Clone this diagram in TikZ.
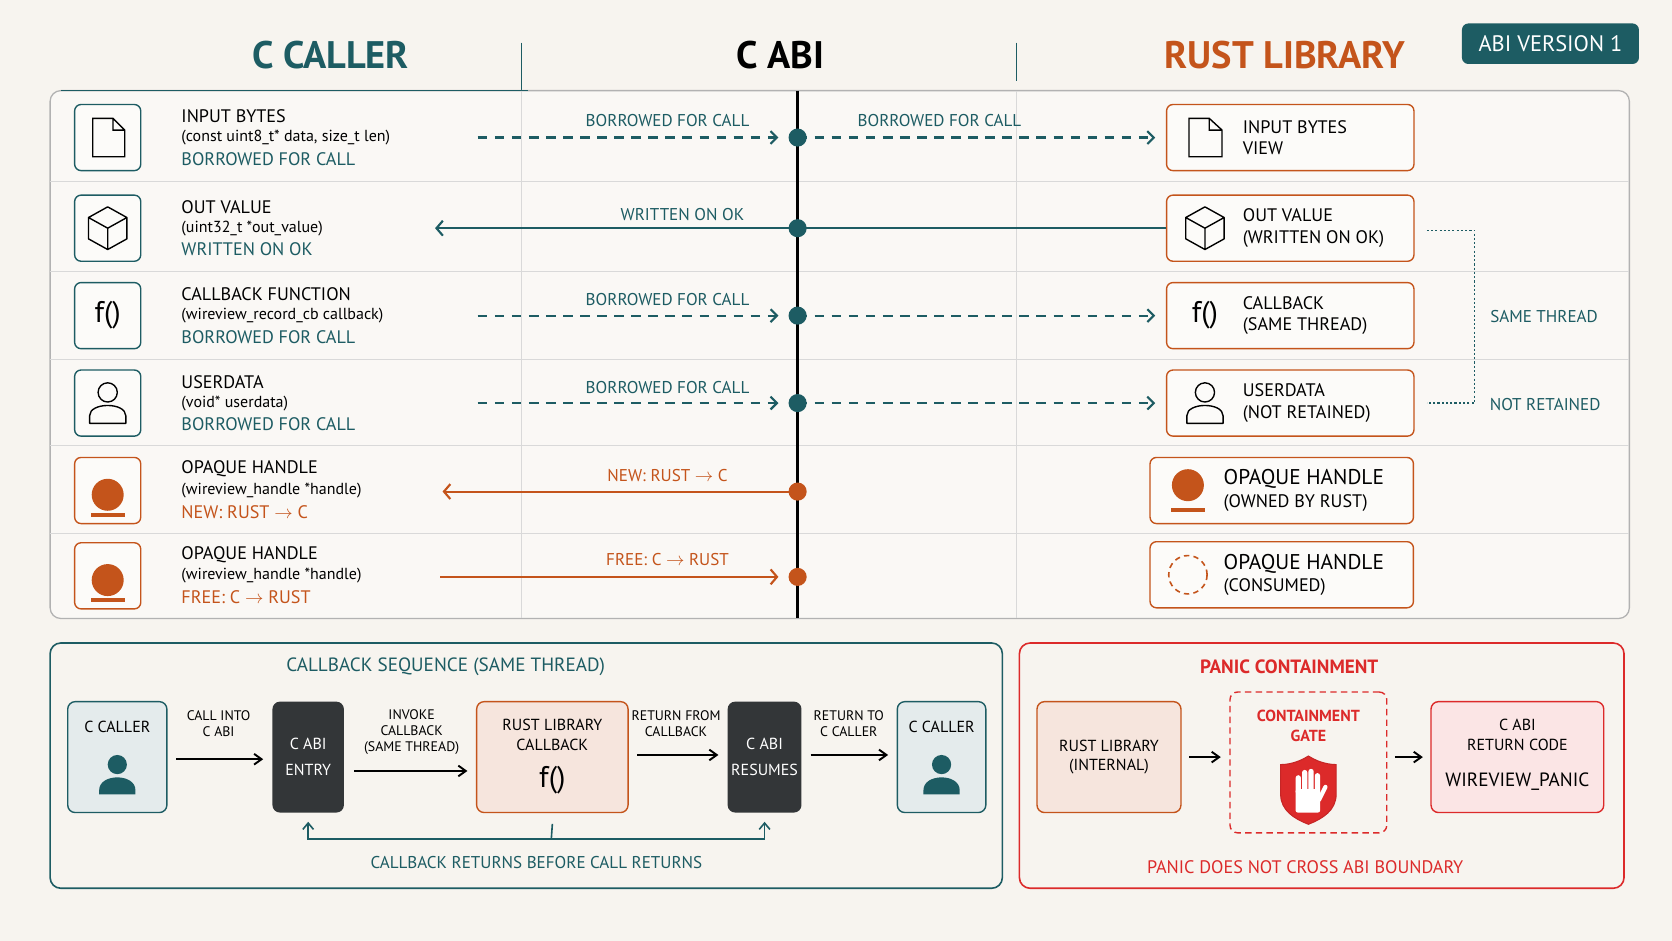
\documentclass[tikz,border=0pt]{standalone}
\usepackage{fontspec}
\setmainfont{PT Sans}
\usetikzlibrary{positioning,arrows.meta}
\definecolor{teal}{HTML}{1D5C63}
\definecolor{rust}{HTML}{C4541B}
\definecolor{alarm}{HTML}{DC2A2A}
\definecolor{paper}{HTML}{F7F4EF}
\definecolor{slate}{HTML}{333638}
\tikzset{
  icobox/.style={draw=teal,line width=1.3pt,rounded corners=6pt,minimum width=62pt,minimum height=62pt,fill=white!60!paper},
  orbox/.style={icobox,draw=rust},
  libbox/.style={draw=rust,line width=1.3pt,rounded corners=6pt,minimum height=62pt,fill=white!60!paper},
  flow/.style={line width=2pt,teal},
  tag/.style={font=\fontsize{16}{18}\selectfont,text=teal},
  seqbox/.style={rounded corners=7pt,line width=1.3pt,minimum height=104pt,align=center,font=\fontsize{15}{18}\selectfont},
  darkbox/.style={seqbox,fill=slate,text=white,minimum width=67pt},
  small/.style={font=\fontsize{13}{15}\selectfont,align=center},
  blk/.style={-{Straight Barb[length=7pt,width=10pt]},line width=1.8pt},
  rowl/.style={anchor=west,inner sep=0pt}
}
\newcommand{\rowtext}[5]{%
  \node[rowl,font=\fontsize{17}{20}\selectfont] at (170,#1-20) {#2};
  \node[rowl,font=\fontsize{15}{18}\selectfont] at (170,#1) {#3};
  \node[rowl,font=\fontsize{17}{20}\selectfont,text=#5] at (170,#1+20) {#4};}
\newcommand{\person}[2]{%
  \draw[line width=1.3pt,line join=round] (#1,#2-10) circle (9) (#1-17,#2+19) -- (#1-17,#2+12) .. controls (#1-17,#2-1) and (#1+17,#2-1) .. (#1+17,#2+12) -- (#1+17,#2+19) -- cycle;}
\begin{document}
\begin{tikzpicture}[x=1pt,y=-1pt]
\fill[paper] (0,0) rectangle (1568,882);
\useasboundingbox (0,0) rectangle (1568,882);
% headings
\node[font=\bfseries\fontsize{36}{40}\selectfont,text=teal] at (310,52) {C CALLER};
\node[font=\bfseries\fontsize{36}{40}\selectfont] at (732,52) {C ABI};
\node[font=\bfseries\fontsize{36}{40}\selectfont,text=rust] at (1205,52) {RUST LIBRARY};
\node[fill=teal,text=white,rounded corners=6pt,minimum width=166pt,minimum height=38pt,font=\fontsize{21}{24}\selectfont] at (1454,41) {ABI VERSION 1};
\draw[teal,line width=1pt] (489,40) -- (489,85) (953,40) -- (953,76);
% table
\draw[gray!60,line width=1.2pt,rounded corners=10pt,fill=white!40!paper] (47,85) rectangle (1528,580);
\draw[teal,line width=1.4pt] (57,85) -- (495,85);
\foreach \y in {170,255,337,418,500} \draw[gray!30,line width=1pt] (47,\y) -- (1528,\y);
\draw[gray!30,line width=1pt] (489,85) -- (489,580) (953,85) -- (953,580);
\draw[black,line width=2.5pt] (748,85) -- (748,580);
% left icons
\node[icobox] (L1) at (101,129) {};
\node[icobox] (L2) at (101,214) {};
\node[icobox] (L3) at (101,296) {\fontsize{28}{30}\selectfont f()};
\node[icobox] (L4) at (101,378) {};
\node[orbox] (L5) at (101,460) {};
\node[orbox] (L6) at (101,540) {};
\draw[line width=1.3pt] (87,111) -- (106,111) -- (117,122) -- (117,147) -- (87,147) -- cycle (106,111) -- (106,122) -- (117,122);
\draw[line width=1.3pt,line join=round] (101,194) -- (119,204) -- (119,224) -- (101,234) -- (83,224) -- (83,204) -- cycle (83,204) -- (101,214) -- (119,204) (101,214) -- (101,234);
\person{101}{378}
\foreach \n in {L5,L6} {
  \fill[rust] ([yshift=-4pt]\n.center) circle (15);
  \fill[rust] ([xshift=-16pt,yshift=-21pt]\n.center) rectangle ([xshift=16pt,yshift=-25pt]\n.center);}
\rowtext{129}{INPUT BYTES}{(const uint8\_t* data, size\_t len)}{BORROWED FOR CALL}{teal}
\rowtext{214}{OUT VALUE}{(uint32\_t *out\_value)}{WRITTEN ON OK}{teal}
\rowtext{296}{CALLBACK FUNCTION}{(wireview\_record\_cb callback)}{BORROWED FOR CALL}{teal}
\rowtext{378}{USERDATA}{(void* userdata)}{BORROWED FOR CALL}{teal}
\rowtext{460}{OPAQUE HANDLE}{(wireview\_handle *handle)}{NEW: RUST $\rightarrow$ C}{rust}
\rowtext{540}{OPAQUE HANDLE}{(wireview\_handle *handle)}{FREE: C $\rightarrow$ RUST}{rust}
% right boxes
\node[libbox,minimum width=232pt] (R1) at (1210,129) {};
\node[libbox,minimum width=232pt] (R2) at (1210,214) {};
\node[libbox,minimum width=232pt] (R3) at (1210,296) {};
\node[libbox,minimum width=232pt] (R4) at (1210,378) {};
\node[libbox,minimum width=247pt] (R5) at (1202,460) {};
\node[libbox,minimum width=247pt] (R6) at (1202,539) {};
\node[anchor=west,align=left,font=\fontsize{17}{20}\selectfont] at (1162,129) {INPUT BYTES\\VIEW};
\node[anchor=west,align=left,font=\fontsize{17}{20}\selectfont] at (1162,214) {OUT VALUE\\(WRITTEN ON OK)};
\node[anchor=west,align=left,font=\fontsize{17}{20}\selectfont] at (1162,296) {CALLBACK\\(SAME THREAD)};
\node[anchor=west,align=left,font=\fontsize{17}{20}\selectfont] at (1162,378) {USERDATA\\(NOT RETAINED)};
\node[anchor=west,align=left,font=\fontsize{20}{23}\selectfont] at (1144,460) {OPAQUE HANDLE\\[-2pt]{\fontsize{17}{20}\selectfont(OWNED BY RUST)}};
\node[anchor=west,align=left,font=\fontsize{20}{23}\selectfont] at (1144,539) {OPAQUE HANDLE\\[-2pt]{\fontsize{17}{20}\selectfont(CONSUMED)}};
\draw[line width=1.3pt] (1115,111) -- (1134,111) -- (1146,122) -- (1146,147) -- (1115,147) -- cycle (1134,111) -- (1134,122) -- (1146,122);
\draw[line width=1.3pt,line join=round] (1130,194) -- (1148,204) -- (1148,224) -- (1130,234) -- (1112,224) -- (1112,204) -- cycle (1112,204) -- (1130,214) -- (1148,204) (1130,214) -- (1130,234);
\node[font=\fontsize{28}{30}\selectfont] at (1130,296) {f()};
\person{1130}{378}
\fill[rust] (1114,455) circle (15);
\fill[rust] (1098,476) rectangle (1130,480);
\draw[rust,line width=1.5pt,dash pattern=on 5pt off 4pt] (1114,539) circle (18);
% ABI crossings
\foreach \i/\y in {1/129,2/214,3/296,4/378} \fill[teal] (748,\y) circle (8.5) coordinate (D\i);
\foreach \i/\y in {5/461,6/541} \fill[rust] (748,\y) circle (8.5) coordinate (D\i);
\coordinate (s1) at (448,129); \coordinate (s3) at (448,296); \coordinate (s4) at (448,378);
\coordinate (e2) at (408,214); \coordinate (e5) at (415,461); \coordinate (s6) at (413,541);
\foreach \i in {1,3,4} {
  \draw[flow,dash pattern=on 9pt off 7pt,-{Straight Barb[length=6pt,width=12pt]}] (s\i) -- ([xshift=-18pt]D\i);
  \draw[flow,dash pattern=on 9pt off 7pt,-{Straight Barb[length=6pt,width=12pt]}] (D\i) -- ([xshift=-10pt]R\i.west);}
\draw[flow,-{Straight Barb[length=6pt,width=14pt]}] (R2.west) -- (D2) -- (e2);
\draw[line width=2pt,rust,-{Straight Barb[length=6pt,width=14pt]}] (D5) -- (e5);
\draw[line width=2pt,rust,-{Straight Barb[length=6pt,width=14pt]}] (s6) -- ([xshift=-18pt]D6);
\node[tag] at (626,113) {BORROWED FOR CALL};
\node[tag] at (881,113) {BORROWED FOR CALL};
\node[tag] at (640,201) {WRITTEN ON OK};
\node[tag] at (626,281) {BORROWED FOR CALL};
\node[tag] at (626,363) {BORROWED FOR CALL};
\node[tag,text=rust] at (626,446) {NEW: RUST $\rightarrow$ C};
\node[tag,text=rust] at (626,525) {FREE: C $\rightarrow$ RUST};
% thread bracket
\draw[teal,line width=1.2pt,dash pattern=on 2pt off 2pt] (1338,216) -- (1383,216) -- (1383,378) -- (1338,378);
\node[tag] at (1448,297) {SAME THREAD};
\node[tag] at (1449,379) {NOT RETAINED};
% callback sequence panel
\draw[teal,line width=1.5pt,rounded corners=10pt] (47,603) rectangle (940,833);
\node[tag,font=\fontsize{18}{20}\selectfont] at (418,625) {CALLBACK SEQUENCE (SAME THREAD)};
\node[seqbox,draw=teal,fill=teal!12,minimum width=93pt] (cc1) at (110,710) {};
\node[darkbox] (entry) at (289,710) {C ABI\\[6pt]ENTRY};
\node[seqbox,draw=rust,fill=rust!15,minimum width=142pt] (cb) at (518,710) {};
\node[darkbox] (resume) at (717,710) {C ABI\\[6pt]RESUMES};
\node[seqbox,draw=teal,fill=teal!12,minimum width=83pt] (cc2) at (883,710) {};
\node[small,font=\fontsize{15}{18}\selectfont] at (110,682) {C CALLER};
\node[small,font=\fontsize{15}{18}\selectfont] at (883,682) {C CALLER};
\node[small,font=\fontsize{15}{19}\selectfont] at (518,689) {RUST LIBRARY\\CALLBACK};
\node[font=\fontsize{28}{30}\selectfont] at (518,732) {f()};
\foreach \x in {110,883} {
  \fill[teal] (\x,717) circle (9);
  \fill[teal] (\x-17,745) -- (\x-17,741) .. controls (\x-17,725) and (\x+17,725) .. (\x+17,741) -- (\x+17,745) -- cycle;}
\draw[blk] ([xshift=8pt,yshift=-2pt]cc1.east) -- ([xshift=-8pt,yshift=-2pt]entry.west);
\draw[blk] ([xshift=9pt,yshift=-13pt]entry.east) -- ([xshift=-8pt,yshift=-13pt]cb.west);
\draw[blk] ([xshift=8pt,yshift=2pt]cb.east) -- ([xshift=-8pt,yshift=2pt]resume.west);
\draw[blk] ([xshift=8pt,yshift=2pt]resume.east) -- ([xshift=-8pt,yshift=2pt]cc2.west);
\node[small] at (205,679) {CALL INTO\\C ABI};
\node[small] at (386,687) {INVOKE\\CALLBACK\\(SAME THREAD)};
\node[small] at (634,679) {RETURN FROM\\CALLBACK};
\node[small] at (796,679) {RETURN TO\\C CALLER};
\draw[teal,line width=1.5pt] ([yshift=-10pt]cb.south) -- (517,787);
\draw[teal,line width=1.5pt,{Straight Barb[length=6pt,width=10pt]}-{Straight Barb[length=6pt,width=10pt]}] ([yshift=-8pt]entry.south) |- (517,787) -| ([yshift=-8pt]resume.south);
\node[tag] at (503,809) {CALLBACK RETURNS BEFORE CALL RETURNS};
% panic panel
\draw[alarm,line width=1.5pt,rounded corners=10pt] (956,603) rectangle (1523,833);
\node[tag,text=alarm,font=\bfseries\fontsize{18}{20}\selectfont] at (1209,625) {PANIC CONTAINMENT};
\node[seqbox,draw=rust,fill=rust!15,minimum width=135pt] (rint) at (1040,710) {RUST LIBRARY\\(INTERNAL)};
\node[seqbox,draw=alarm,dash pattern=on 6pt off 4pt,minimum width=147pt,minimum height=132pt] (gate) at (1227,715) {};
\node[seqbox,draw=alarm,fill=alarm!12,minimum width=162pt] (rc) at (1423,710) {};
\node[small,text=alarm,font=\bfseries\fontsize{15}{19}\selectfont] at (1227,681) {CONTAINMENT\\GATE};
\node[small,font=\fontsize{15}{19}\selectfont] at (1423,689) {C ABI\\RETURN CODE};
\node[font=\fontsize{18}{20}\selectfont] at (1423,733) {WIREVIEW\_PANIC};
\filldraw[alarm!90!black,line width=1pt,fill=alarm] (1227,709) .. controls (1238,716) and (1248,717) .. (1253,717) -- (1253,745) .. controls (1253,760) and (1240,768) .. (1227,773) .. controls (1214,768) and (1201,760) .. (1201,745) -- (1201,717) .. controls (1206,717) and (1216,716) .. (1227,709) -- cycle;
\fill[white,rounded corners=2pt] (1215,740) rectangle (1238,762);
\foreach \fx/\ft in {1215/727,1221/722,1227/721,1233/725} \fill[white,rounded corners=2.5pt] (\fx,\ft) rectangle (\fx+5,745);
\draw[white,line width=4pt,line cap=round] (1237,750) -- (1243,738);
\draw[blk] ([xshift=7pt]rint.east) -- ([xshift=-8pt]rint.east -| gate.west);
\draw[blk] ([xshift=7pt]gate.east |- rc.west) -- ([xshift=-7pt]rc.west);
\node[tag,text=alarm,font=\fontsize{17}{20}\selectfont] at (1224,813) {PANIC DOES NOT CROSS ABI BOUNDARY};
\end{tikzpicture}
\end{document}
